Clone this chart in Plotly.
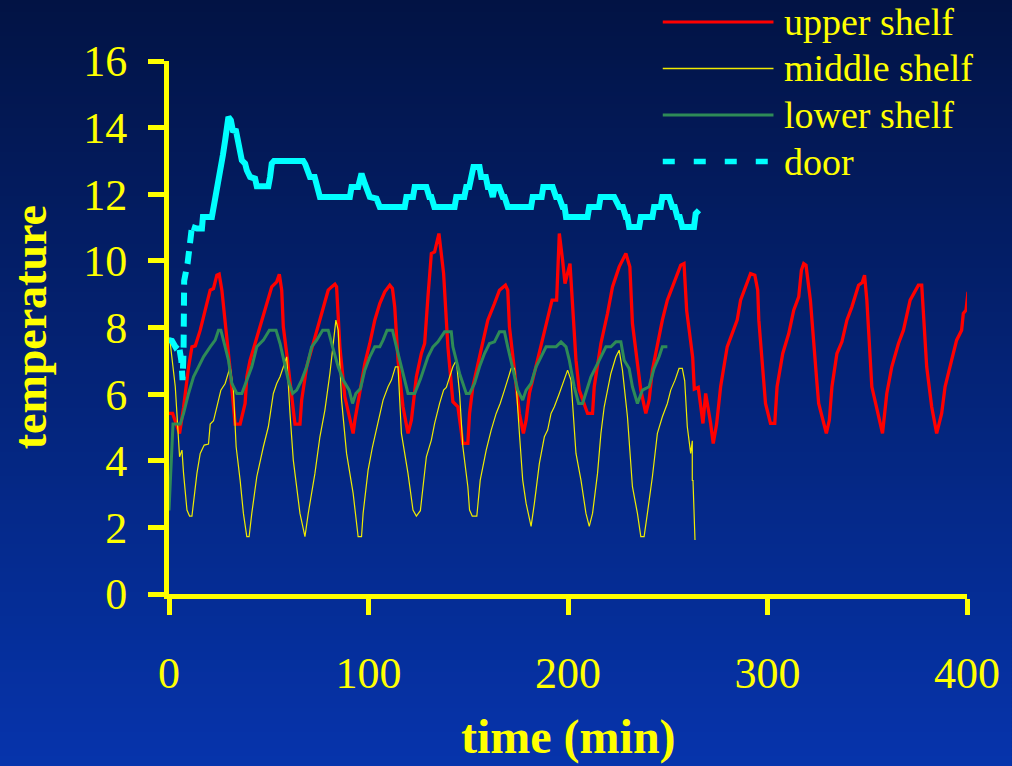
import plotly.graph_objects as go

# ---- temperature logs (time in minutes, temperature) ----
upper_t = [0, 1.8, 5.3, 7.3, 9.8, 11.5, 13.2, 15.65, 18.15, 19.3, 20.65, 22.3, 24.0, 25.15, 26.5, 30.65, 33.15,
           35.65, 38.15, 39.0, 40.65, 43.15, 44.8, 48.15, 49.8, 51.5, 54.0, 55.3, 56.5, 57.3, 59.0, 61.5, 63.15,
           65.65, 66.5, 69.0, 72.3, 74.0, 75.65, 78.15, 79.8, 81.5, 83.15, 84.0, 85.65, 88.15, 90.65, 92.3, 93.2,
           95.65, 98.15, 100.65, 103.15, 105.65, 108.15, 110.65, 112.0, 113.15, 114.8, 117.3, 119.8, 121.5, 124.0,
           126.5, 128.15, 129.8, 131.5, 133.15, 135.3, 137.65, 139.8, 142.3, 144.8, 147.3, 149.8, 150.65, 152.3,
           155.65, 159.8, 163.15, 165.65, 168.65, 169.8, 170.65, 173.15, 175.65, 177.65, 179.0, 180.65, 184.0,
           187.3, 189.8, 192.0, 194.3, 195.65, 197.3, 198.5, 201.0, 202.3, 204.0, 205.65, 209.8, 212.3, 213.15,
           216.5, 219.8, 222.3, 225.65, 229.0, 231.0, 232.3, 234.8, 236.5, 239.0, 240.65, 242.3, 244.8, 247.3,
           249.8, 252.3, 256.5, 258.15, 259.5, 261.0, 262.5, 263.3, 265.3, 267.65, 269.0, 271.5, 272.8, 274.5,
           276.5, 279.8, 282.3, 284.8, 286.5, 289.0, 291.5, 293.65, 295.1, 295.65, 298.15, 299.0, 301.5, 303.65,
           304.8, 307.65, 310.65, 313.15, 315.65, 317.0, 318.15, 319.3, 321.5, 323.15, 324.8, 325.65, 329.5,
           331.0, 332.3, 334.8, 337.3, 339.8, 342.3, 345.65, 347.5, 348.65, 349.8, 352.3, 355.65, 357.65, 359.8,
           362.3, 365.65, 368.15, 371.5, 374.0, 375.65, 377.3, 379.0, 379.8, 382.3, 384.8, 387.3, 389.0, 392.3,
           394.8, 397.3, 398.15, 399.5, 400.5]
upper_v = [5.42, 5.42, 4.82, 5.6, 6.81, 7.42, 7.45, 7.92, 8.52, 8.82, 9.12, 9.17, 9.57, 9.6, 9.12, 6.72, 5.1,
           5.1, 5.72, 6.52, 7.02, 7.52, 7.87, 8.52, 8.92, 9.22, 9.37, 9.6, 9.12, 8.02, 7.22, 5.92, 5.1,
           5.1, 5.82, 6.82, 7.52, 7.92, 8.22, 8.82, 9.12, 9.22, 9.3, 9.22, 7.42, 5.92, 5.22, 4.82, 5.22,
           6.02, 6.92, 7.52, 8.22, 8.72, 9.07, 9.27, 9.17, 8.62, 7.02, 5.62, 4.82, 5.22, 6.52,
           7.22, 7.52, 8.92, 10.22, 10.27, 10.82, 9.62, 7.42, 5.77, 5.62, 4.52, 4.52, 5.42, 6.22,
           7.12, 8.22, 8.72, 9.12, 9.27, 9.12, 8.02, 6.72, 5.42, 4.82, 5.22, 6.02, 6.82,
           7.62, 8.22, 8.82, 8.82, 10.82, 10.02, 9.32, 9.92, 8.62, 7.02, 6.12, 5.42, 5.42, 6.22,
           7.52, 8.42, 9.22, 9.82, 10.22, 9.82, 8.12, 6.82, 6.12, 5.42, 5.82, 6.72, 7.52, 8.22,
           8.82, 9.22, 9.87, 9.92, 8.5, 7.8, 7.1, 6.15, 6.2, 5.12, 6.02, 5.12, 4.52, 5.1,
           6.22, 7.42, 7.82, 8.22, 8.82, 9.22, 9.62, 9.57, 9.12, 8.22, 6.52, 5.72, 5.12, 5.12,
           6.22, 7.22, 7.82, 8.52, 8.92, 9.72, 9.92, 9.87, 8.82, 7.42, 6.32, 5.72, 4.82,
           5.22, 6.22, 7.22, 7.57, 8.22, 8.62, 9.27, 9.35, 9.57, 8.82, 6.22, 5.32, 4.82, 6.02,
           6.82, 7.52, 7.92, 8.82, 9.07, 9.27, 9.27, 7.72, 6.82, 5.62, 4.82, 5.42, 6.22, 7.02,
           7.62, 7.92, 8.42, 8.52, 9.07]

middle_t = [0.3, 1.0, 3.15, 5.3, 6.5, 7.3, 9.0, 10.3, 11.5, 14.0, 15.65, 17.65, 19.8, 20.65, 22.3, 24.0, 26.0,
            28.15, 29.3, 30.65, 32.3, 33.15, 33.65, 35.65, 37.3, 39.0, 40.15, 41.5, 44.0, 47.3, 49.8, 52.3,
            54.0, 55.65, 57.3, 59.0, 60.65, 62.3, 65.65, 68.15, 69.8, 73.15, 75.65, 78.15, 80.65, 82.0, 83.65,
            84.8, 86.5, 89.0, 92.3, 94.8, 96.5, 97.3, 99.8, 102.0, 105.3, 107.3, 109.8, 111.5, 113.5, 114.8,
            116.5, 119.8, 122.3, 124.0, 126.0, 127.3, 129.0, 131.5, 133.15, 135.65, 137.65, 139.0, 140.65,
            142.3, 144.0, 145.65, 147.3, 149.8, 150.65, 152.0, 154.3, 156.0, 159.0, 161.5, 164.0, 166.0,
            168.15, 169.8, 171.5, 173.15, 174.0, 175.65, 177.3, 179.0, 181.5, 183.15, 185.65, 188.15, 189.8,
            191.5, 193.15, 195.65, 198.15, 199.8, 201.5, 204.0, 206.5, 209.0, 210.65, 212.3, 214.8, 216.5,
            218.15, 219.8, 221.5, 224.0, 225.65, 227.3, 229.8, 232.3, 234.8, 236.5, 238.15, 239.8, 242.3,
            244.8, 247.3, 249.8, 251.5, 253.65, 255.65, 257.3, 258.5, 259.8, 261.5, 262.3, 262.3, 262.65, 263.65]
middle_v = [7.7, 7.32, 6.22, 4.12, 4.32, 3.62, 2.52, 2.34, 2.34, 3.62, 4.22, 4.47, 4.5, 5.1, 5.2, 5.62, 6.12,
            6.32, 6.52, 6.82, 6.12, 5.22, 4.42, 3.42, 2.42, 1.72, 1.72, 2.42, 3.52, 4.42, 5.02, 6.02,
            6.32, 6.52, 6.82, 7.12, 5.42, 4.02, 2.42, 1.72, 2.42, 3.62, 4.72, 5.52, 6.62, 7.42, 8.22,
            7.92, 5.82, 4.22, 3.02, 1.72, 1.72, 2.42, 3.72, 4.42, 5.32, 5.82, 6.22, 6.42, 6.82, 6.82,
            4.82, 3.62, 2.52, 2.34, 2.5, 3.3, 4.12, 4.62, 5.12, 5.72, 6.12, 6.2, 6.52,
            6.82, 7.02, 6.02, 4.42, 3.22, 2.52, 2.34, 2.34, 3.42, 4.32, 4.92, 5.42, 5.72,
            6.12, 6.42, 6.77, 6.77, 6.3, 4.82, 3.42, 2.72, 2.03, 2.72, 3.92, 4.72, 4.92,
            5.42, 5.62, 6.02, 6.47, 6.72, 6.42, 4.22, 3.42, 2.42, 2.03, 2.42, 3.62, 4.82,
            5.62, 6.12, 6.62, 7.12, 7.32, 6.72, 5.32, 3.22, 2.42, 1.72, 1.72, 2.42, 3.52,
            4.82, 5.32, 5.72, 6.12, 6.42, 6.77, 6.77, 6.4, 5.02, 4.22, 4.6, 3.4, 3.42, 1.62]

lower_t = [0, 2.0, 5.65, 7.3, 9.8, 12.3, 14.8, 17.3, 20.65, 23.15, 24.8, 26.0, 28.15, 29.8, 31.5, 34.0, 36.5,
           39.0, 41.5, 44.0, 47.3, 50.3, 53.65, 55.65, 58.15, 59.8, 62.0, 64.0, 66.5, 69.0, 71.5, 74.0, 77.0,
           79.8, 82.0, 84.8, 87.3, 90.3, 92.0, 93.65, 96.0, 98.15, 100.65, 103.15, 105.65, 107.3, 109.3, 112.0,
           114.0, 116.5, 119.8, 123.15, 126.0, 129.8, 132.3, 134.8, 138.15, 141.5, 142.3, 145.65, 149.0, 150.65,
           153.15, 155.65, 158.15, 160.65, 163.15, 165.65, 168.15, 169.8, 173.15, 174.8, 177.3, 179.0, 181.5,
           184.0, 186.5, 189.0, 194.0, 196.5, 199.0, 200.65, 203.15, 205.3, 207.3, 209.8, 211.5, 214.0, 216.5,
           219.0, 221.5, 224.0, 226.5, 228.15, 230.65, 232.3, 234.8, 237.3, 240.65, 243.15, 245.65, 247.3, 249.8]
lower_v = [2.51, 5.1, 5.1, 5.42, 6.02, 6.52, 6.82, 7.12, 7.42, 7.62, 7.92, 7.92, 7.42, 7.02, 6.32, 6.02, 6.02,
           6.42, 6.82, 7.42, 7.62, 7.92, 7.92, 7.52, 6.82, 6.42, 6.02, 6.12, 6.42, 6.82, 7.42, 7.62, 7.92,
           7.92, 7.42, 6.82, 6.42, 6.12, 5.72, 6.02, 6.17, 6.72, 7.12, 7.42, 7.42, 7.62, 7.92, 7.92,
           7.42, 6.82, 6.02, 6.02, 6.45, 7.12, 7.42, 7.57, 7.87, 7.87, 7.42, 6.62, 6.02, 6.02,
           6.32, 6.82, 7.22, 7.52, 7.57, 7.87, 7.87, 7.42, 6.52, 6.12, 5.82, 6.12, 6.32,
           6.82, 7.12, 7.42, 7.42, 7.57, 7.42, 7.02, 6.22, 5.72, 5.72, 6.22, 6.52, 6.82, 7.12,
           7.42, 7.42, 7.57, 7.57, 7.02, 6.77, 6.22, 5.72, 6.12, 6.22, 6.77, 7.12, 7.42, 7.42]

door_t = [0, 1.5, 3.2, 4.8, 6.2, 6.8, 7.3, 7.6, 9.3, 10.3, 11.0, 11.5, 14.0, 16.5, 17.0, 21.5, 23.15, 24.8,
          26.0, 27.0, 28.15, 29.0, 29.8, 31.0, 32.0, 33.6, 34.8, 36.5, 38.15, 39.0, 40.65, 43.15, 44.0, 49.8,
          50.65, 51.5, 52.65, 67.3, 68.3, 70.65, 73.0, 74.0, 75.65, 90.65, 91.5, 94.8, 96.5, 98.15, 100.65,
          104.0, 105.65, 118.15, 119.0, 122.3, 123.15, 129.0, 130.5, 131.5, 133.0, 143.15, 144.0, 148.0,
          149.0, 150.5, 151.5, 152.0, 152.6, 155.65, 156.5, 158.8, 159.8, 161.0, 162.3, 163.3, 165.5, 167.3,
          168.2, 169.8, 181.5, 182.3, 186.8, 187.6, 192.3, 194.0, 195.5, 197.3, 198.3, 199.0, 209.8, 210.6,
          215.5, 216.3, 223.15, 225.65, 227.5, 229.0, 229.8, 230.65, 235.65, 236.5, 242.3, 243.15, 246.5,
          247.3, 250.65, 252.3, 253.5, 254.8, 256.0, 257.3, 263.15, 264.0, 265.65]
door_v = [7.62, 7.6, 7.42, 7.52, 7.0, 6.42, 7.3, 9.4, 9.92, 10.42, 10.82, 11.02, 10.97, 10.97, 11.32, 11.32,
          11.82, 12.32, 12.82, 13.17, 13.62, 14.02, 14.32, 14.22, 13.92, 13.9, 13.52, 13.02, 12.92, 12.72,
          12.52, 12.47, 12.24, 12.24, 12.52, 12.92, 13.0, 13.0, 12.9, 12.52, 12.52, 12.22, 11.92, 11.92,
          12.22, 12.22, 12.62, 12.32, 11.92, 11.87, 11.62, 11.62, 11.92, 11.92, 12.22, 12.22, 11.92, 11.92,
          11.62, 11.62, 11.92, 11.92, 12.22, 12.22, 12.52, 12.52, 12.82, 12.82, 12.52, 12.52, 12.22, 12.22,
          11.92, 12.22, 12.22, 11.92, 11.92, 11.62, 11.62, 11.92, 11.92, 12.22, 12.22, 11.92, 11.92, 11.62,
          11.62, 11.32, 11.32, 11.62, 11.62, 11.92, 11.92, 11.62, 11.62, 11.32, 11.32, 11.02, 11.02, 11.32,
          11.32, 11.62, 11.62, 11.92, 11.92, 11.62, 11.62, 11.32, 11.32, 11.02, 11.02, 11.42, 11.52]
door_dashed_until = 11.5  # the opening climb is drawn dashed

series_names = ["upper shelf", "middle shelf", "lower shelf", "door"]
x_ticks = [0, 100, 200, 300, 400]
y_ticks = [0, 2, 4, 6, 8, 10, 12, 14, 16]

# ---- page geometry ----
W, H = 1012, 766
L, R, T, B = 169, 43, 61, 172
PW, PH = W - L - R, H - T - B


def px_x(px):
    return (px - L) / PW


def px_y(py):
    return (H - B - py) / PH


YELLOW = "#ffff00"
SERIF = "Liberation Serif, Times New Roman, serif"
RED, OLIVE, GREEN, CYAN = "#ff0000", "#f0ec00", "#2e8b57", "#00ffff"

fig = go.Figure()

k = door_t.index(door_dashed_until) + 1
fig.add_trace(go.Scatter(x=upper_t, y=upper_v, mode="lines", name=series_names[0],
                         line=dict(color=RED, width=3.3)))
fig.add_trace(go.Scatter(x=middle_t, y=middle_v, mode="lines", name=series_names[1],
                         line=dict(color=OLIVE, width=1.2)))
fig.add_trace(go.Scatter(x=lower_t, y=lower_v, mode="lines", name=series_names[2],
                         line=dict(color=GREEN, width=3)))
fig.add_trace(go.Scatter(x=door_t[:k], y=door_v[:k], mode="lines", name=series_names[3],
                         line=dict(color=CYAN, width=6, dash="13px,8px")))
fig.add_trace(go.Scatter(x=door_t[k - 1:], y=door_v[k - 1:], mode="lines", name=series_names[3],
                         line=dict(color=CYAN, width=6)))

shapes = []
# vertical background gradient, navy at the top to royal blue at the bottom
top_rgb, bot_rgb = (2, 19, 68), (6, 52, 172)
band = 4
for y0 in range(0, H, band):
    f = (y0 + band / 2) / H
    c = tuple(round(a + (b - a) * f) for a, b in zip(top_rgb, bot_rgb))
    shapes.append(dict(type="rect", xref="paper", yref="paper", layer="below",
                       x0=px_x(-2), x1=px_x(W + 2), y0=px_y(y0 + band + 1), y1=px_y(y0),
                       fillcolor="rgb(%d,%d,%d)" % c, line=dict(width=0)))

# legend keys
legend_rows = [(22, RED, 3, None), (68.5, OLIVE, 1.5, None), (115, GREEN, 3, None), (161.5, CYAN, 5.5, "12px,19px")]
for (py, col, w, dash) in legend_rows:
    shapes.append(dict(type="line", xref="paper", yref="paper", layer="above",
                       x0=px_x(664), x1=px_x(775 if dash is None else 782), y0=px_y(py), y1=px_y(py),
                       line=dict(color=col, width=w, dash=dash or "solid")))

annotations = []
for (py, _, _, _), name in zip(legend_rows, series_names):
    annotations.append(dict(xref="paper", yref="paper", x=px_x(784), y=px_y(py),
                            xanchor="left", yanchor="middle", showarrow=False, text=name,
                            font=dict(family=SERIF, size=38, color=YELLOW)))

annotations.append(dict(xref="paper", yref="paper", x=px_x(30), y=px_y(327), textangle=-90,
                        xanchor="center", yanchor="middle", showarrow=False, text="temperature",
                        font=dict(family=SERIF, size=46, color=YELLOW, weight="bold")))
annotations.append(dict(xref="paper", yref="paper", x=px_x(570), y=px_y(737),
                        xanchor="center", yanchor="middle", showarrow=False, text="time (min)",
                        font=dict(family=SERIF, size=48, color=YELLOW, weight="bold")))

axis_common = dict(showgrid=False, zeroline=False, showline=True, linecolor=YELLOW, linewidth=5,
                   ticks="outside", ticklen=16, tickwidth=5, tickcolor=YELLOW,
                   tickfont=dict(family=SERIF, size=44, color=YELLOW), fixedrange=True)

fig.update_layout(
    width=W, height=H,
    margin=dict(l=L, r=R, t=T, b=B, pad=0),
    paper_bgcolor="rgb(4,34,120)",
    plot_bgcolor="rgba(0,0,0,0)",
    showlegend=False,
    shapes=shapes,
    annotations=annotations,
    xaxis=dict(range=[0, 400], tickvals=x_ticks, ticklabelstandoff=20, **axis_common),
    yaxis=dict(range=[0, 16], tickvals=y_ticks, ticklabelstandoff=12, **axis_common),
)

fig.write_html("out.html")
